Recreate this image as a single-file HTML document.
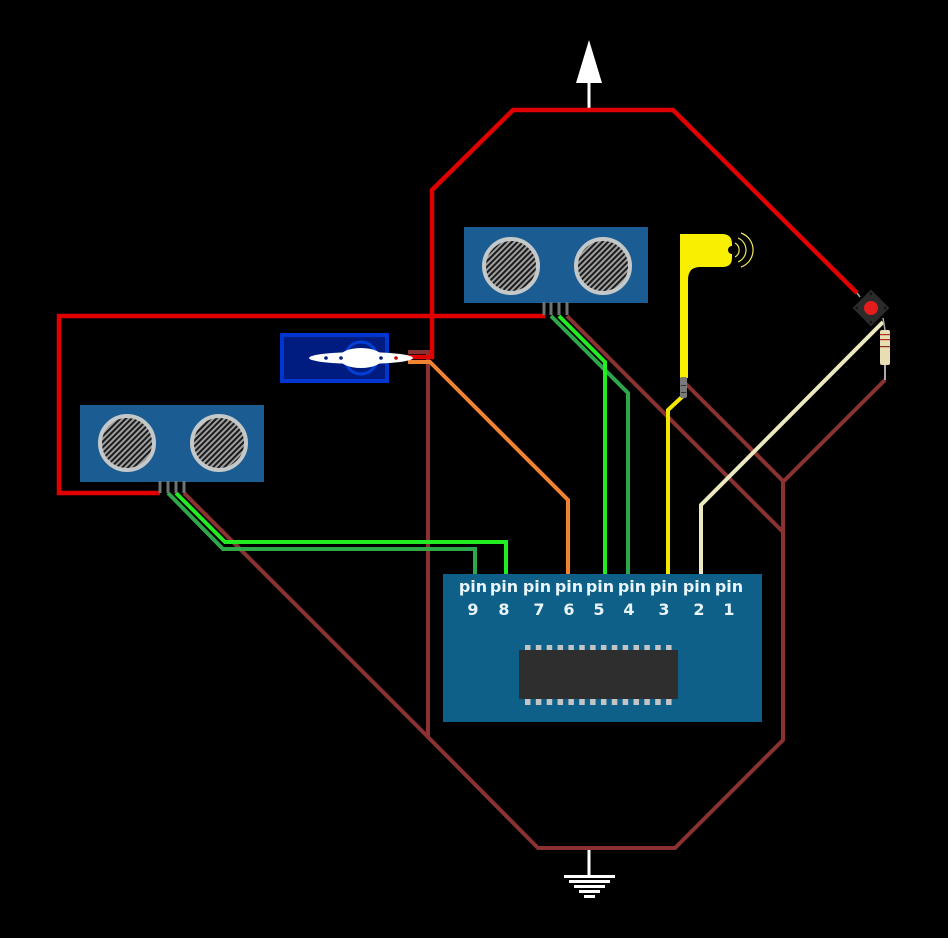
<!DOCTYPE html>
<html>
<head>
<meta charset="utf-8">
<style>
html,body{margin:0;padding:0;background:#000;}
svg{display:block;}
text{font-family:"DejaVu Sans","Liberation Sans",sans-serif;font-weight:bold;fill:#e8f4fa;}
</style>
</head>
<body>
<svg width="948" height="938" viewBox="0 0 948 938" xmlns="http://www.w3.org/2000/svg">
<defs>
<pattern id="hatch" width="4" height="4" patternUnits="userSpaceOnUse" patternTransform="rotate(45)">
<rect width="4" height="4" fill="#a0a0a0"/>
<rect width="2" height="4" fill="#1a1a1a"/>
</pattern>
</defs>
<rect width="948" height="938" fill="#000"/>

<!-- top arrow -->
<polygon points="589,40 576,83 602,83" fill="#fff"/>
<rect x="587.5" y="82" width="3" height="28" fill="#fff"/>

<!-- ground -->
<rect x="587.5" y="849" width="3" height="27" fill="#fff"/>
<rect x="564" y="875" width="51" height="3" fill="#fff"/>
<rect x="569" y="880" width="41" height="3" fill="#fff"/>
<rect x="574" y="885" width="31" height="3" fill="#fff"/>
<rect x="579" y="890" width="21" height="3" fill="#fff"/>
<rect x="584" y="895" width="11" height="3" fill="#fff"/>

<g fill="none" stroke-linejoin="miter" stroke-width="4">
<!-- brown ground wires -->
<path d="M408,352 L428,352 L428,737 L538,848 L675,848 L783,740 L783,482 L885,380" stroke="#8a3232"/>
<path d="M184,493 L428,737" stroke="#8a3232"/>
<path d="M567,316 L783,532" stroke="#8a3232"/>
<path d="M685,383 L783,481" stroke="#8a3232"/>

<!-- red power wires -->
<path d="M408,357 L432,357 L432,190 L513,110 L673,110 L857,293" stroke="#e00000" stroke-width="4.5"/>
<path d="M545,316 L59,316 L59,493 L160,493" stroke="#e00000" stroke-width="4.5"/>

<!-- orange -->
<path d="M408,362 L430,362 L568,500 L568,576" stroke="#f08232"/>

<!-- greens sensor 2 -->
<path d="M551,316 L628,393 L628,576" stroke="#2fa84a"/>
<path d="M559,316 L605,362 L605,576" stroke="#22ec22"/>

<!-- greens sensor 1 -->
<path d="M168,493 L223,549 L475,549 L475,576" stroke="#2fa84a"/>
<path d="M176,493 L225,542 L506,542 L506,576" stroke="#22ec22"/>

<!-- yellow -->
<path d="M683,396 L668,410 L668,576" stroke="#f5e800"/>

<!-- beige -->
<path d="M883,322 L701,505 L701,576" stroke="#ece8c0"/>
</g>

<!-- sensor 1 -->
<rect x="80" y="405" width="184" height="77" fill="#1b5d92"/>
<circle cx="127" cy="443" r="27" fill="url(#hatch)" stroke="#c4c8c8" stroke-width="4"/>
<circle cx="219" cy="443" r="27" fill="url(#hatch)" stroke="#c4c8c8" stroke-width="4"/>
<rect x="158.5" y="481" width="3" height="12" fill="#6c7474"/>
<rect x="166.5" y="481" width="3" height="12" fill="#6c7474"/>
<rect x="174.5" y="481" width="3" height="12" fill="#6c7474"/>
<rect x="182.5" y="481" width="3" height="12" fill="#6c7474"/>

<!-- sensor 2 -->
<rect x="464" y="227" width="184" height="76" fill="#1b5d92"/>
<circle cx="511" cy="266" r="27" fill="url(#hatch)" stroke="#c4c8c8" stroke-width="4"/>
<circle cx="603" cy="266" r="27" fill="url(#hatch)" stroke="#c4c8c8" stroke-width="4"/>
<rect x="542.5" y="302" width="3" height="13" fill="#6c7474"/>
<rect x="549.5" y="302" width="3" height="13" fill="#6c7474"/>
<rect x="557.5" y="302" width="3" height="13" fill="#6c7474"/>
<rect x="565.5" y="302" width="3" height="13" fill="#6c7474"/>

<!-- servo -->
<rect x="282" y="335" width="105" height="46" fill="#001c80" stroke="#0036d0" stroke-width="4"/>
<circle cx="361" cy="358" r="16" fill="none" stroke="#0040d8" stroke-width="3"/>
<ellipse cx="361" cy="358" rx="52" ry="6" fill="#fff"/>
<ellipse cx="361" cy="358" rx="22" ry="10" fill="#fff"/>
<circle cx="326" cy="358" r="1.8" fill="#001c80"/>
<circle cx="341" cy="358" r="1.8" fill="#001c80"/>
<circle cx="381" cy="358" r="1.8" fill="#001c80"/>
<circle cx="396" cy="358" r="1.8" fill="#d00000"/>

<!-- yellow sensor -->
<path d="M680,234 L722,234 Q732,234 732,244 L732,246 A4,4 0 0 0 732,254 L732,258 Q732,267 722,267 L700,267 Q688,267 688,280 L688,378 L680,378 Z" fill="#f8f000"/>
<g fill="none" stroke="#f0e860" stroke-width="1.2">
<path d="M735,243 A8,8 0 0 1 735,257"/>
<path d="M738,238 A13,13 0 0 1 738,262"/>
<path d="M741,233 A18,18 0 0 1 741,267"/>
</g>
<rect x="680" y="377" width="7" height="21" rx="2" fill="#7a7a7a"/>
<rect x="681" y="385" width="5" height="1" fill="#333"/>
<rect x="681" y="392" width="5" height="1" fill="#333"/>

<!-- button -->
<line x1="857" y1="293" x2="860" y2="297" stroke="#aaa" stroke-width="1.5"/>
<line x1="883" y1="318" x2="885" y2="330" stroke="#aaa" stroke-width="1.5"/>
<g transform="translate(871,308) rotate(45)">
<rect x="-13" y="-13" width="26" height="26" fill="#2b2b2b"/>
<circle cx="-10" cy="-10" r="1.3" fill="#111"/>
<circle cx="10" cy="-10" r="1.3" fill="#111"/>
<circle cx="-10" cy="10" r="1.3" fill="#111"/>
<circle cx="10" cy="10" r="1.3" fill="#111"/>
</g>
<circle cx="871" cy="308" r="7" fill="#e41c1c"/>

<!-- resistor -->
<rect x="884" y="364" width="2" height="16" fill="#aaa"/>
<rect x="880" y="330" width="10" height="35" rx="2" fill="#e8deb2"/>
<rect x="880" y="334" width="10" height="1.2" fill="#b03020"/>
<rect x="880" y="339" width="10" height="1.2" fill="#b03020"/>
<rect x="880" y="346" width="10" height="1.2" fill="#8b3020"/>

<!-- main board -->
<rect x="443" y="574" width="319" height="148" fill="#0f6088"/>
<g font-size="16" text-anchor="middle">
<text x="473" y="592">pin</text><text x="473" y="615">9</text>
<text x="504" y="592">pin</text><text x="504" y="615">8</text>
<text x="537" y="592">pin</text><text x="539" y="615">7</text>
<text x="569" y="592">pin</text><text x="569" y="615">6</text>
<text x="600" y="592">pin</text><text x="599" y="615">5</text>
<text x="632" y="592">pin</text><text x="629" y="615">4</text>
<text x="664" y="592">pin</text><text x="664" y="615">3</text>
<text x="697" y="592">pin</text><text x="699" y="615">2</text>
<text x="729" y="592">pin</text><text x="729" y="615">1</text>
</g>
<rect x="519" y="650" width="159" height="49" fill="#2e2e2e"/>
<g fill="#c4c4c4">
<rect x="525" y="645" width="5.5" height="5"/><rect x="535.85" y="645" width="5.5" height="5"/><rect x="546.7" y="645" width="5.5" height="5"/><rect x="557.55" y="645" width="5.5" height="5"/><rect x="568.4" y="645" width="5.5" height="5"/><rect x="579.25" y="645" width="5.5" height="5"/><rect x="590.1" y="645" width="5.5" height="5"/><rect x="600.95" y="645" width="5.5" height="5"/><rect x="611.8" y="645" width="5.5" height="5"/><rect x="622.65" y="645" width="5.5" height="5"/><rect x="633.5" y="645" width="5.5" height="5"/><rect x="644.35" y="645" width="5.5" height="5"/><rect x="655.2" y="645" width="5.5" height="5"/><rect x="666.05" y="645" width="5.5" height="5"/>
<rect x="525" y="699" width="5.5" height="6"/><rect x="535.85" y="699" width="5.5" height="6"/><rect x="546.7" y="699" width="5.5" height="6"/><rect x="557.55" y="699" width="5.5" height="6"/><rect x="568.4" y="699" width="5.5" height="6"/><rect x="579.25" y="699" width="5.5" height="6"/><rect x="590.1" y="699" width="5.5" height="6"/><rect x="600.95" y="699" width="5.5" height="6"/><rect x="611.8" y="699" width="5.5" height="6"/><rect x="622.65" y="699" width="5.5" height="6"/><rect x="633.5" y="699" width="5.5" height="6"/><rect x="644.35" y="699" width="5.5" height="6"/><rect x="655.2" y="699" width="5.5" height="6"/><rect x="666.05" y="699" width="5.5" height="6"/>
</g>
</svg>
</body>
</html>
